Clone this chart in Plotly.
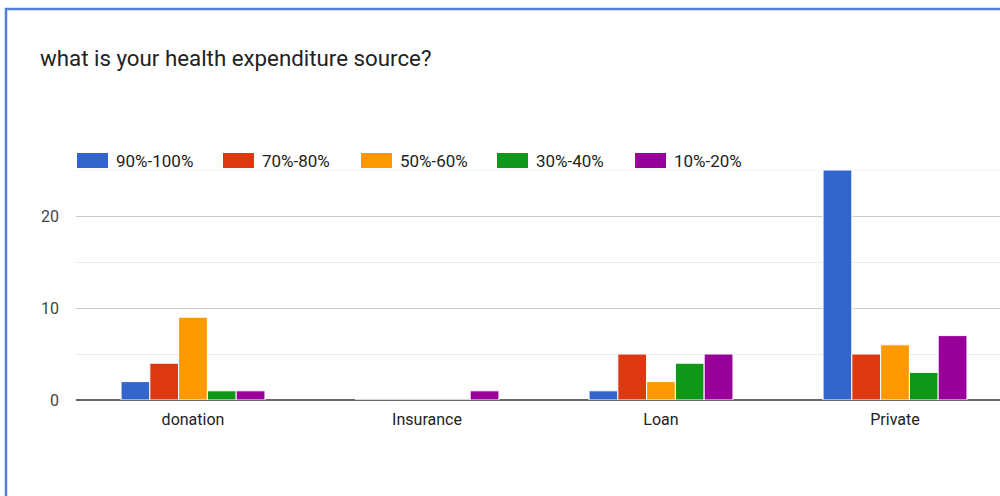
import plotly.graph_objects as go

categories = ["donation", "Insurance", "Loan", "Private"]
series_names = ["90%-100%", "70%-80%", "50%-60%", "30%-40%", "10%-20%"]
v_90_100 = [2, 0, 1, 25]
v_70_80 = [4, 0, 5, 5]
v_50_60 = [9, 0, 2, 6]
v_30_40 = [1, 0, 4, 3]
v_10_20 = [1, 1, 5, 7]
series_values = [v_90_100, v_70_80, v_50_60, v_30_40, v_10_20]
colors = ["#3366cc", "#dc3912", "#ff9900", "#109618", "#990099"]
y_ticks = [0, 10, 20]

W, H = 1000, 496
ML, MR, MT, MB = 76, 0, 170, 96
pw = W - ML - MR
ph = H - MT - MB
FONT = "Roboto, Arial, sans-serif"

fig = go.Figure()
for name, vals, col in zip(series_names, series_values, colors):
    fig.add_trace(go.Bar(
        x=categories, y=vals, name=name,
        marker=dict(color=col, line=dict(color="white", width=1)),
        showlegend=False,
    ))

def px_x(p):
    return (p - ML) / pw

def px_y(p):
    return (H - p - MB) / ph

# frame of the screenshot (blue border)
fig.add_shape(type="path", xref="paper", yref="paper",
              path=f"M {px_x(6)},{px_y(530)} L {px_x(6)},{px_y(9)} L {px_x(1010)},{px_y(9)}",
              line=dict(color="#4f7fd6", width=2.5), layer="above")

# top light gridline at 25
fig.add_shape(type="line", xref="paper", yref="y", x0=0, x1=1, y0=25, y1=25,
              line=dict(color="#ebebeb", width=1), layer="below")

# custom legend (Google-Charts-style wide swatches)
legend_left = [77, 223, 361, 497, 635]
for name, col, lx in zip(series_names, colors, legend_left):
    fig.add_shape(type="rect", xref="paper", yref="paper",
                  x0=px_x(lx), x1=px_x(lx + 31), y0=px_y(168), y1=px_y(153),
                  fillcolor=col, line=dict(width=0), layer="above")
    fig.add_annotation(xref="paper", yref="paper", x=px_x(lx + 37), y=px_y(161),
                       xanchor="left", yanchor="middle", showarrow=False,
                       text=name, font=dict(family=FONT, size=17, color="#222222"))

fig.update_layout(
    width=W, height=H,
    margin=dict(l=ML, r=MR, t=MT, b=MB, autoexpand=False),
    paper_bgcolor="white", plot_bgcolor="white",
    barmode="group", bargap=0.385, bargroupgap=0,
    font=dict(family=FONT, color="#222222", size=16),
    title=dict(text="what is your health expenditure source?",
               x=40 / W, xanchor="left", y=1 - 58 / H, yanchor="middle",
               font=dict(size=22.3, color="#222222")),
    showlegend=False,
)
fig.update_xaxes(range=[-0.5, -0.5 + pw / 234.0], showgrid=False, showline=False,
                 ticks="", tickfont=dict(size=16, color="#222222"), ticklabelstandoff=8,
                 fixedrange=True)
fig.update_yaxes(range=[0, 25], tickvals=y_ticks, showgrid=True, gridcolor="#cccccc", gridwidth=1,
                 minor=dict(dtick=5, tick0=0, showgrid=True, gridcolor="#ebebeb", gridwidth=1),
                 zeroline=True, zerolinecolor="#666666", zerolinewidth=2,
                 showline=False, ticks="", tickfont=dict(size=16, color="#444444"),
                 ticklabelstandoff=16, fixedrange=True)

fig.write_html("out.html", config={"displayModeBar": False},
               post_script="document.body.style.margin='0';document.body.style.padding='0';")
